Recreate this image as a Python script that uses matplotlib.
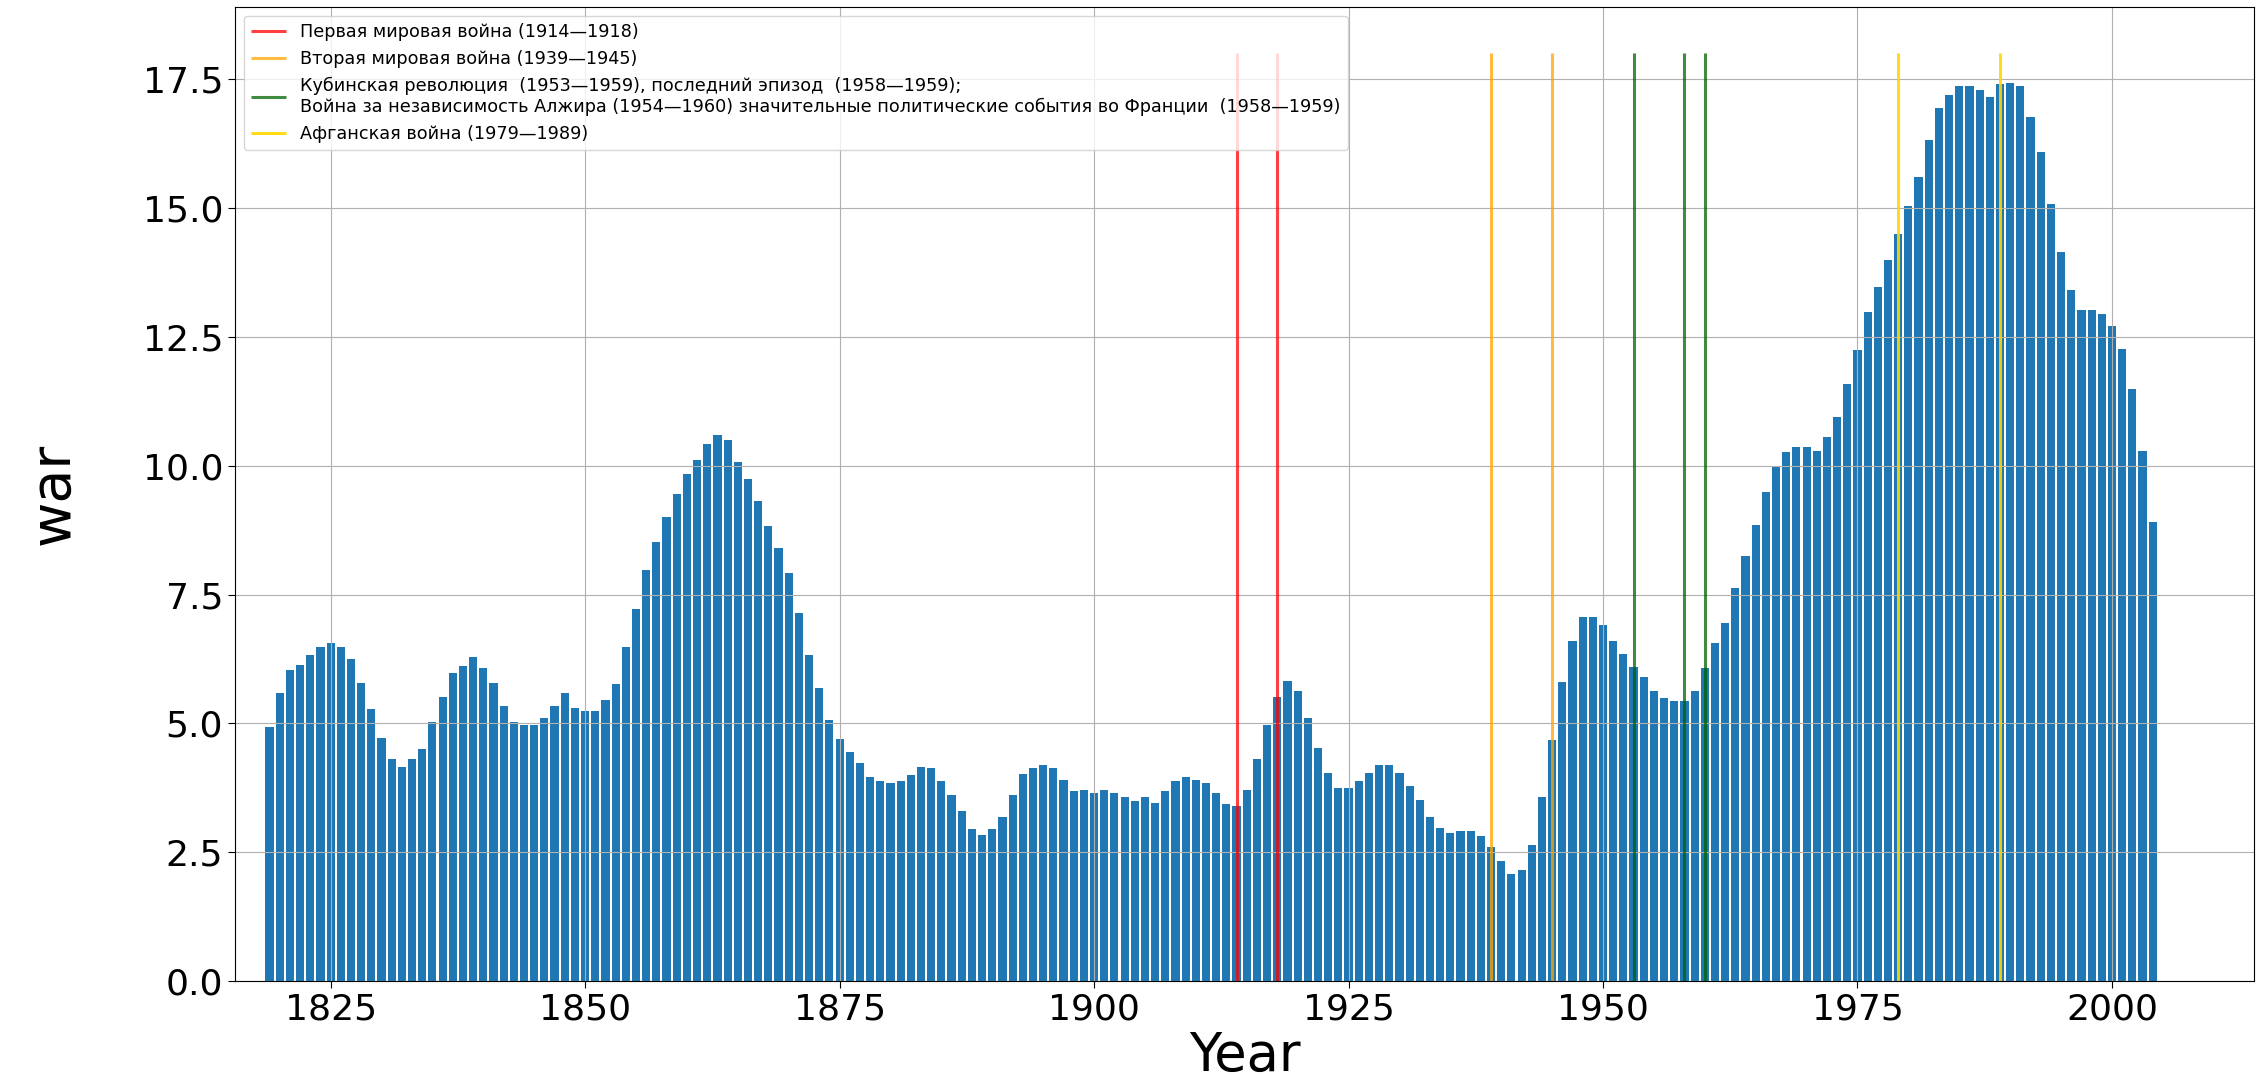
import matplotlib
matplotlib.use('Agg')
import matplotlib.pyplot as plt

years = list(range(1819, 2005))
war = [
    4.92, 5.59, 6.03, 6.14, 6.32, 6.49, 6.56, 6.49, 6.25, 5.79,   # 1819-1828
    5.27, 4.72, 4.30, 4.16, 4.30, 4.51, 5.03, 5.52, 5.97, 6.11,   # 1829-1838
    6.28, 6.07, 5.79, 5.34, 5.03, 4.97, 4.97, 5.10, 5.34, 5.59,   # 1839-1848
    5.30, 5.24, 5.24, 5.45, 5.76, 6.49, 7.22, 7.98, 8.51, 9.00,   # 1849-1858
    9.45, 9.84, 10.11, 10.43, 10.60, 10.49, 10.08, 9.74, 9.32, 8.82,  # 1859-1868
    8.41, 7.92, 7.15, 6.32, 5.69, 5.06, 4.69, 4.44, 4.23, 3.95,   # 1869-1878
    3.88, 3.85, 3.88, 3.99, 4.16, 4.13, 3.88, 3.60, 3.29, 2.95,   # 1879-1888
    2.84, 2.95, 3.18, 3.60, 4.02, 4.13, 4.19, 4.13, 3.91, 3.68,   # 1889-1898
    3.71, 3.64, 3.71, 3.64, 3.57, 3.50, 3.57, 3.46, 3.68, 3.88,   # 1899-1908
    3.95, 3.91, 3.85, 3.64, 3.43, 3.40, 3.71, 4.30, 4.96, 5.52,   # 1909-1918
    5.83, 5.62, 5.11, 4.53, 4.03, 3.75, 3.75, 3.89, 4.03, 4.20,   # 1919-1928
    4.20, 4.03, 3.79, 3.51, 3.19, 2.96, 2.88, 2.92, 2.92, 2.81,   # 1929-1938
    2.61, 2.33, 2.08, 2.15, 2.64, 3.58, 4.68, 5.80, 6.60, 7.07,   # 1939-1948
    7.07, 6.91, 6.60, 6.35, 6.10, 5.90, 5.62, 5.49, 5.44, 5.44,   # 1949-1958
    5.62, 6.07, 6.56, 6.94, 7.62, 8.24, 8.84, 9.49, 10.00, 10.26,  # 1959-1968
    10.36, 10.36, 10.29, 10.56, 10.95, 11.58, 12.24, 12.99, 13.47, 14.00,  # 1969-1978
    14.49, 15.04, 15.60, 16.32, 16.94, 17.19, 17.36, 17.36, 17.29, 17.16,  # 1979-1988
    17.40, 17.43, 17.36, 16.77, 16.08, 15.07, 14.14, 13.41, 13.03, 13.03,  # 1989-1998
    12.95, 12.71, 12.27, 11.48, 10.29, 8.91,                       # 1999-2004
]

ww1 = [1914, 1918]
ww2 = [1939, 1945]
cuba_algeria = [1953, 1958, 1960]
afghan = [1979, 1989]

fig, ax = plt.subplots(figsize=(22.59, 10.81), dpi=100)
fig.subplots_adjust(left=0.104, right=0.998, bottom=0.0925, top=0.9935)

ax.bar(years, war, width=0.8, color='tab:blue')

ax.vlines(ww1, 0, 18, colors='red', alpha=0.75, linewidth=2.2,
          label='Первая мировая война (1914—1918)')
ax.vlines(ww2, 0, 18, colors='orange', alpha=0.75, linewidth=2.2,
          label='Вторая мировая война (1939—1945)')
ax.vlines(cuba_algeria, 0, 18, colors='darkgreen', alpha=0.75, linewidth=2.2,
          label='Кубинская революция  (1953—1959), последний эпизод  (1958—1959);\n'
                'Война за независимость Алжира (1954—1960) значительные политические события во Франции  (1958—1959)')
ax.vlines(afghan, 0, 18, colors='gold', alpha=0.9, linewidth=2.2,
          label='Афганская война (1979—1989)')

ax.set_xlim(1815.6, 2014.0)
ax.set_ylim(0, 18.9)
ax.grid(True)
ax.tick_params(labelsize=26, length=5)
ax.set_xlabel('Year', fontsize=38, labelpad=2)
ax.set_ylabel('war', fontsize=40, labelpad=45)
ax.legend(loc='upper left', fontsize=12.7)

plt.savefig('out.png')
